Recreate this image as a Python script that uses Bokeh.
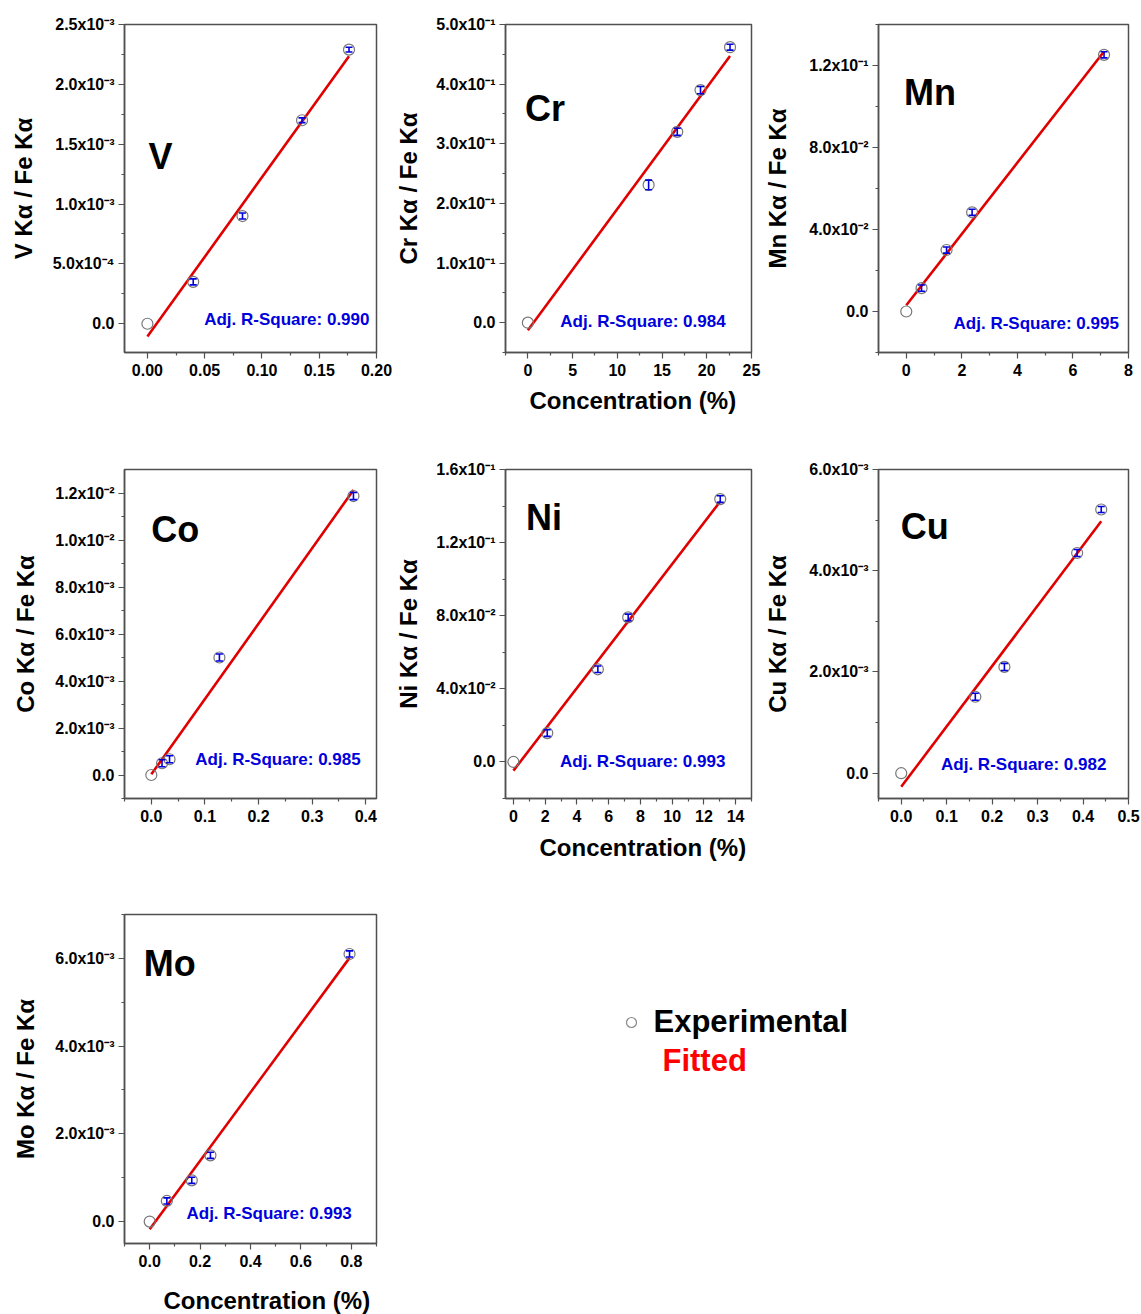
import numpy as np
from bokeh.embed import file_html
from bokeh.layouts import column, row
from bokeh.models import ColumnDataSource, FixedTicker, Label, Range1d, TeeHead, Title, Whisker
from bokeh.plotting import figure
from bokeh.resources import INLINE

FONT = "Liberation Sans"
BLUE = "#0000dd"
RED = "#e00000"
AXIS = "#505050"
MARK = "#777777"
# Labels drawn with an alphabetic baseline land this fraction of the font size low
BASE_FIX = 0.33

# ---- calibration data: concentration (%) vs. X Kα / Fe Kα intensity ratio ----
v_conc = [0.0, 0.040, 0.083, 0.135, 0.176]
v_ratio = [0.0, 0.35e-3, 0.90e-3, 1.70e-3, 2.29e-3]
v_err = [0.0, 0.025e-3, 0.025e-3, 0.02e-3, 0.02e-3]
v_r2 = "0.990"
v_xticks = [0.0, 0.05, 0.10, 0.15, 0.20]
v_xlabels = ["0.00", "0.05", "0.10", "0.15", "0.20"]
v_yticks = [0.0, 0.5e-3, 1.0e-3, 1.5e-3, 2.0e-3, 2.5e-3]
v_ylabels = ["0.0", "5.0x10⁻⁴", "1.0x10⁻³", "1.5x10⁻³", "2.0x10⁻³", "2.5x10⁻³"]

cr_conc = [0.0, 13.5, 16.7, 19.3, 22.6]
cr_ratio = [0.0, 0.231, 0.320, 0.390, 0.462]
cr_err = [0.0, 0.008, 0.006, 0.006, 0.005]
cr_r2 = "0.984"
cr_xticks = [0, 5, 10, 15, 20, 25]
cr_xlabels = ["0", "5", "10", "15", "20", "25"]
cr_yticks = [0.0, 0.1, 0.2, 0.3, 0.4, 0.5]
cr_ylabels = ["0.0", "1.0x10⁻¹", "2.0x10⁻¹", "3.0x10⁻¹", "4.0x10⁻¹", "5.0x10⁻¹"]

mn_conc = [0.0, 0.55, 1.45, 2.37, 7.12]
mn_ratio = [0.0, 0.0114, 0.0300, 0.0484, 0.1252]
mn_err = [0.0, 0.0015, 0.0015, 0.0015, 0.0015]
mn_r2 = "0.995"
mn_xticks = [0, 2, 4, 6, 8]
mn_xlabels = ["0", "2", "4", "6", "8"]
mn_yticks = [0.0, 0.04, 0.08, 0.12]
mn_ylabels = ["0.0", "4.0x10⁻²", "8.0x10⁻²", "1.2x10⁻¹"]

co_conc = [0.0, 0.020, 0.034, 0.127, 0.377]
co_ratio = [0.0, 0.50e-3, 0.67e-3, 5.0e-3, 11.87e-3]
co_err = [0.0, 0.15e-3, 0.15e-3, 0.15e-3, 0.15e-3]
co_r2 = "0.985"
co_xticks = [0.0, 0.1, 0.2, 0.3, 0.4]
co_xlabels = ["0.0", "0.1", "0.2", "0.3", "0.4"]
co_yticks = [0.0, 2e-3, 4e-3, 6e-3, 8e-3, 10e-3, 12e-3]
co_ylabels = ["0.0", "2.0x10⁻³", "4.0x10⁻³", "6.0x10⁻³", "8.0x10⁻³", "1.0x10⁻²", "1.2x10⁻²"]

ni_conc = [0.0, 2.13, 5.32, 7.23, 13.03]
ni_ratio = [0.0, 0.0158, 0.0507, 0.0791, 0.1438]
ni_err = [0.0, 0.0018, 0.0018, 0.0018, 0.0018]
ni_r2 = "0.993"
ni_xticks = [0, 2, 4, 6, 8, 10, 12, 14]
ni_xlabels = ["0", "2", "4", "6", "8", "10", "12", "14"]
ni_yticks = [0.0, 0.04, 0.08, 0.12, 0.16]
ni_ylabels = ["0.0", "4.0x10⁻²", "8.0x10⁻²", "1.2x10⁻¹", "1.6x10⁻¹"]

cu_conc = [0.0, 0.163, 0.227, 0.387, 0.440]
cu_ratio = [0.0, 1.51e-3, 2.10e-3, 4.35e-3, 5.21e-3]
cu_err = [0.0, 0.07e-3, 0.07e-3, 0.07e-3, 0.06e-3]
cu_r2 = "0.982"
cu_xticks = [0.0, 0.1, 0.2, 0.3, 0.4, 0.5]
cu_xlabels = ["0.0", "0.1", "0.2", "0.3", "0.4", "0.5"]
cu_yticks = [0.0, 2e-3, 4e-3, 6e-3]
cu_ylabels = ["0.0", "2.0x10⁻³", "4.0x10⁻³", "6.0x10⁻³"]

mo_conc = [0.0, 0.068, 0.167, 0.241, 0.793]
mo_ratio = [0.0, 0.47e-3, 0.94e-3, 1.51e-3, 6.10e-3]
mo_err = [0.0, 0.07e-3, 0.07e-3, 0.07e-3, 0.07e-3]
mo_r2 = "0.993"
mo_xticks = [0.0, 0.2, 0.4, 0.6, 0.8]
mo_xlabels = ["0.0", "0.2", "0.4", "0.6", "0.8"]
mo_yticks = [0.0, 2e-3, 4e-3, 6e-3]
mo_ylabels = ["0.0", "2.0x10⁻³", "4.0x10⁻³", "6.0x10⁻³"]

X_TITLE = "Concentration (%)"


def minor_ticks(majors, lo, hi):
    step = majors[1] - majors[0]
    out = []
    for k in range(-1, len(majors)):
        t = majors[0] + step * (k + 0.5)
        if lo - 1e-12 <= t <= hi + 1e-12:
            out.append(t)
    return out


def style_axis(ax, ticks, labels, lo, hi):
    ax.ticker = FixedTicker(ticks=ticks, minor_ticks=minor_ticks(ticks, lo, hi))
    ax.major_label_overrides = {t: s for t, s in zip(ticks, labels)}
    ax.axis_line_color = AXIS
    ax.axis_line_width = 1.5
    ax.major_tick_line_color = AXIS
    ax.major_tick_line_width = 1.2
    ax.minor_tick_line_color = AXIS
    ax.minor_tick_line_width = 1.2
    ax.major_tick_in = 0
    ax.major_tick_out = 6
    ax.minor_tick_in = 0
    ax.minor_tick_out = 3
    ax.major_label_text_font = FONT
    ax.major_label_text_font_style = "bold"
    ax.major_label_text_font_size = "16px"
    ax.major_label_text_color = "black"


def blank(width, height, x0, x1, y_top, y_bottom, border_left=0, border_right=0):
    """A bare drawing area whose data units are page pixels (y grows downward)."""
    f = figure(width=width, height=height, x_range=Range1d(x0, x1),
               y_range=Range1d(y_bottom, y_top), output_backend="svg",
               toolbar_location=None, x_axis_location=None, y_axis_location=None,
               min_border_left=border_left, min_border_right=border_right,
               min_border_top=0, min_border_bottom=0)
    f.grid.visible = False
    f.outline_line_color = None
    return f


def panel(symbol, conc, ratio, err, r2, xr, yr, xticks, xlabels, yticks, ylabels,
          sym_xy, r2_xy, size, borders, ylab_gap, xtitle=None):
    w, h = size
    left, right, top, bottom = borders
    per_px = (yr[1] - yr[0]) / (h - top - bottom)
    p = figure(width=w, height=h, x_range=Range1d(*xr), y_range=Range1d(*yr),
               output_backend="svg", toolbar_location=None,
               min_border_left=left, min_border_right=right,
               min_border_top=top, min_border_bottom=bottom)
    p.grid.visible = False
    p.outline_line_color = AXIS
    p.outline_line_width = 1.5
    p.background_fill_color = "white"
    p.border_fill_color = "white"

    style_axis(p.xaxis[0], xticks, xlabels, *xr)
    style_axis(p.yaxis[0], yticks, ylabels, *yr)
    p.xaxis.major_label_standoff = 5
    p.yaxis.major_label_standoff = 4

    p.yaxis.axis_label = f"{symbol} Kα / Fe Kα"
    p.yaxis.axis_label_text_font = FONT
    p.yaxis.axis_label_text_font_style = "bold"
    p.yaxis.axis_label_text_font_size = "24px"
    p.yaxis.axis_label_text_color = "black"
    p.yaxis.axis_label_standoff = ylab_gap

    if xtitle is not None:
        offset, standoff = xtitle
        p.add_layout(Title(text=X_TITLE, align="left", offset=offset,
                           standoff=standoff, vertical_align="top",
                           text_font=FONT, text_font_style="bold",
                           text_font_size="24px", text_color="black"), "below")

    # least-squares calibration line over the measured range
    slope, icpt = np.polyfit(conc, ratio, 1)
    fx = np.array([0.0, max(conc)])
    p.line(fx, slope * fx + icpt, line_color=RED, line_width=2.6)

    p.scatter(conc, ratio, marker="circle", size=11, fill_color=None,
              line_color=MARK, line_width=1.2)

    keep = [i for i, e in enumerate(err) if e > 0]
    src = ColumnDataSource(dict(
        x=[conc[i] for i in keep],
        lower=[ratio[i] - err[i] for i in keep],
        upper=[ratio[i] + err[i] for i in keep]))
    p.add_layout(Whisker(source=src, base="x", lower="lower", upper="upper",
                         dimension="height", line_color=BLUE, line_width=1.6,
                         level="overlay",
                         upper_head=TeeHead(size=7, line_color=BLUE, line_width=1.6),
                         lower_head=TeeHead(size=7, line_color=BLUE, line_width=1.6)))

    p.add_layout(Label(x=sym_xy[0], y=sym_xy[1] + BASE_FIX * 36 * per_px, text=symbol,
                       text_font=FONT, text_font_style="bold", text_font_size="36px",
                       text_color="black", text_align="left",
                       text_baseline="alphabetic"))
    p.add_layout(Label(x=r2_xy[0], y=r2_xy[1] + BASE_FIX * 17 * per_px,
                       text=f"Adj. R-Square: {r2}",
                       text_font=FONT, text_font_style="bold",
                       text_font_size="17px", text_color=BLUE,
                       text_align="center", text_baseline="alphabetic"))
    return p


ROW1 = (440, 24, 88)
ROW2 = (445, 29, 87)
ROW3 = (398, 29, 40)
MO_TITLE_H = 31
COL1 = (392, 124, 16)
COL2 = (369, 108, 10)
COL3 = (380, 115, 13)
GAP1, GAP2, GAP3 = 13, 11, 15


def geom(col, rw):
    return (col[0], rw[0]), (col[1], col[2], rw[1], rw[2])


s, b = geom(COL1, ROW1)
p_v = panel("V", v_conc, v_ratio, v_err, v_r2, (-0.02, 0.2), (-0.24e-3, 2.5e-3),
            v_xticks, v_xlabels, v_yticks, v_ylabels,
            (0.001, 1.297e-3), (0.1217, -0.0145e-3), s, b, GAP1)
s, b = geom(COL2, ROW1)
p_cr = panel("Cr", cr_conc, cr_ratio, cr_err, cr_r2, (-2.5, 25), (-0.05, 0.5),
             cr_xticks, cr_xlabels, cr_yticks, cr_ylabels,
             (-0.31, 0.339), (12.87, -0.0076), s, b, GAP2, xtitle=(24, 16))
s, b = geom(COL3, ROW1)
p_mn = panel("Mn", mn_conc, mn_ratio, mn_err, mn_r2, (-1, 8), (-0.02, 0.14),
             mn_xticks, mn_xlabels, mn_yticks, mn_ylabels,
             (-0.082, 0.101), (4.679, -0.00844), s, b, GAP3)

s, b = geom(COL1, ROW2)
p_co = panel("Co", co_conc, co_ratio, co_err, co_r2, (-0.05, 0.42), (-1e-3, 13e-3),
             co_xticks, co_xlabels, co_yticks, co_ylabels,
             (-0.0002, 9.95e-3), (0.2363, 0.404e-3), s, b, GAP1)
s, b = geom(COL2, ROW2)
p_ni = panel("Ni", ni_conc, ni_ratio, ni_err, ni_r2, (-0.5, 15), (-0.02, 0.16),
             ni_xticks, ni_xlabels, ni_yticks, ni_ylabels,
             (0.797, 0.1272), (8.145, -0.00288), s, b, GAP2, xtitle=(34, 18))
s, b = geom(COL3, ROW2)
p_cu = panel("Cu", cu_conc, cu_ratio, cu_err, cu_r2, (-0.05, 0.5), (-0.5e-3, 6e-3),
             cu_xticks, cu_xlabels, cu_yticks, cu_ylabels,
             (-0.0013, 4.631e-3), (0.2694, 0.067e-3), s, b, GAP3)

s, b = geom(COL1, ROW3)
p_mo = panel("Mo", mo_conc, mo_ratio, mo_err, mo_r2, (-0.1, 0.9), (-0.5e-3, 7e-3),
             mo_xticks, mo_xlabels, mo_yticks, mo_ylabels,
             (-0.0234, 5.609e-3), (0.474, 0.063e-3), s, b, GAP1)

TOP3 = 440 + 445
BOTTOM = TOP3 + ROW3[0] + MO_TITLE_H

# x-axis title under the Mo panel, sitting lower than the other two
mo_title = blank(COL1[0], MO_TITLE_H, COL1[1], COL1[0] - COL1[2],
                 TOP3 + ROW3[0], BOTTOM, border_left=COL1[1], border_right=COL1[2])
mo_title.add_layout(Label(x=163, y=1308 - BASE_FIX * 24, text=X_TITLE, text_font=FONT,
                          text_font_style="bold", text_font_size="24px",
                          text_color="black", text_align="left",
                          text_baseline="alphabetic"))

# key: open marker for the experimental points, red text for the fitted line
leg = blank(1141 - COL1[0], BOTTOM - TOP3, COL1[0], 1141, TOP3, BOTTOM)
leg.scatter([631], [1022], marker="circle", size=10, fill_color=None,
            line_color="#888888", line_width=1.2)
leg.add_layout(Label(x=653, y=1031 - BASE_FIX * 31, text="Experimental", text_font=FONT,
                     text_font_style="bold", text_font_size="31px", text_color="black",
                     text_baseline="alphabetic"))
leg.add_layout(Label(x=662, y=1070 - BASE_FIX * 31, text="Fitted", text_font=FONT,
                     text_font_style="bold", text_font_size="31px", text_color="#ff0000",
                     text_baseline="alphabetic"))

layout = column(row(p_v, p_cr, p_mn), row(p_co, p_ni, p_cu),
                row(column(p_mo, mo_title), leg))

with open("out.html", "w") as f:
    f.write(file_html(layout, INLINE))
